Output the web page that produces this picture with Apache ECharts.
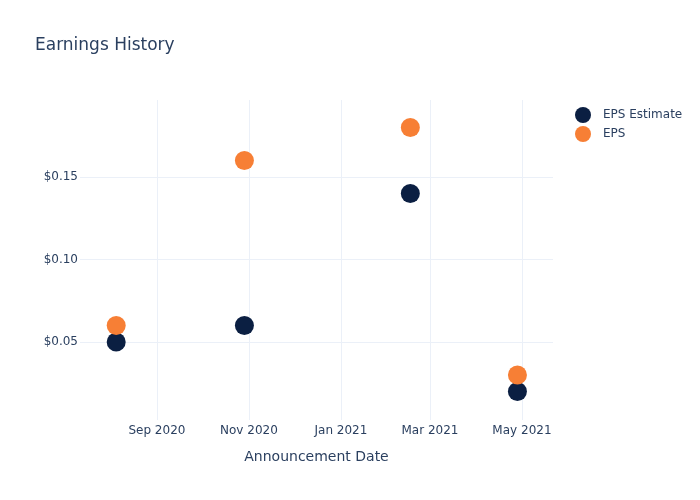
<!DOCTYPE html>
<html><head><meta charset="utf-8">
<script src="https://cdn.jsdelivr.net/npm/echarts@6/dist/echarts.min.js"></script>
<style>html,body{margin:0;padding:0;background:#fff}#c{width:700px;height:500px}</style>
</head><body><div id="c"></div>
<script>
var dates = ['2020-08-05', '2020-10-29', '2021-02-16', '2021-04-28'];
var epsEstimate = [0.05, 0.06, 0.14, 0.02];
var eps = [0.06, 0.16, 0.18, 0.03];
var xTickDates = ['2020-09-01', '2020-11-01', '2021-01-01', '2021-03-01', '2021-05-01'];
var xTickLabels = ['Sep 2020', 'Nov 2020', 'Jan 2021', 'Mar 2021', 'May 2021'];
var yTicks = [0.05, 0.10, 0.15];
var xRange = ['2020-07-12', '2021-05-21T14:00:00'];
var yRange = [0.0027, 0.1967];

function ts(s){ return new Date(s + (s.length === 10 ? 'T00:00:00Z' : 'Z')).getTime(); }
var xTickTs = xTickDates.map(ts);
function xLabel(v){
  for (var i = 0; i < xTickTs.length; i++) if (Math.abs(xTickTs[i] - v) < 3600000) return xTickLabels[i];
  return '';
}

var txt = '#2a3f5f';
var font = 'DejaVu Sans';
var chart = echarts.init(document.getElementById('c'), null, {renderer:'canvas'});
chart.setOption({
  animation:false,
  textStyle:{fontFamily:font},
  title:{text:'Earnings History', left:30, top:32, textStyle:{fontFamily:font, fontSize:17, fontWeight:'normal', color:txt}},
  legend:{orient:'vertical', left:575, top:107, padding:0, itemGap:3, itemWidth:16, itemHeight:16, icon:'circle',
    textStyle:{fontFamily:font, fontSize:12, color:txt, padding:[0,0,0,7]}, data:['EPS Estimate','EPS']},
  grid:{left:80, right:147, top:100, bottom:80, containLabel:false},
  xAxis:{type:'value', min:ts(xRange[0]), max:ts(xRange[1]),
    name:'Announcement Date', nameLocation:'middle', nameGap:30,
    nameTextStyle:{fontFamily:font, fontSize:14, color:txt},
    axisLine:{show:false}, axisTick:{show:false, customValues:xTickTs},
    axisLabel:{customValues:xTickTs, color:txt, fontFamily:font, fontSize:12, margin:5,
      formatter:xLabel},
    splitLine:{show:true, lineStyle:{color:'#ebf0f8', width:1}}},
  yAxis:{type:'value', min:yRange[0], max:yRange[1],
    axisLine:{show:false}, axisTick:{show:false, customValues:yTicks},
    axisLabel:{customValues:yTicks, color:txt, fontFamily:font, fontSize:12, margin:2,
      formatter:function(v){ return '$' + v.toFixed(2); }},
    splitLine:{show:true, lineStyle:{color:'#ebf0f8', width:1}}},
  series:[
    {name:'EPS Estimate', type:'scatter', symbolSize:19, itemStyle:{color:'#0b1f42', opacity:1},
      data:dates.map(function(d,i){ return [ts(d), epsEstimate[i]]; })},
    {name:'EPS', type:'scatter', symbolSize:19, itemStyle:{color:'#f77f35', opacity:1},
      data:dates.map(function(d,i){ return [ts(d), eps[i]]; })}
  ]
});
</script></body></html>
